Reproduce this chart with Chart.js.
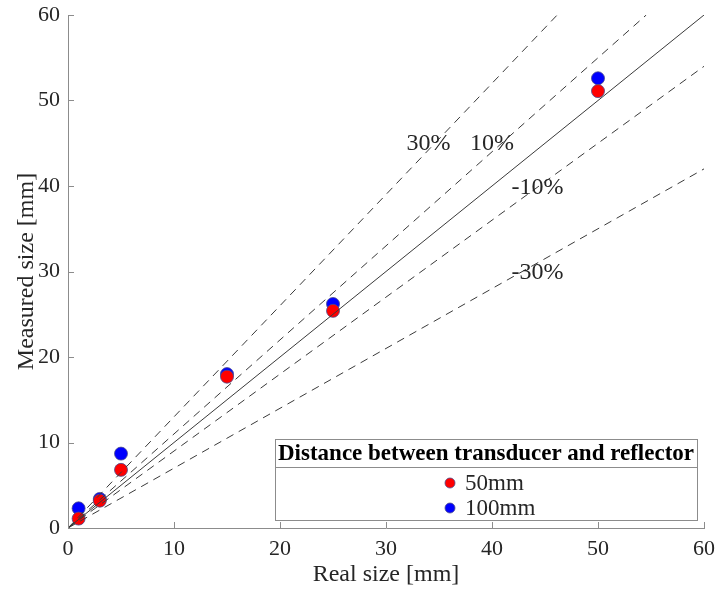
<!DOCTYPE html>
<html>
<head>
<meta charset="utf-8">
<script src="https://cdn.jsdelivr.net/npm/chart.js@4/dist/chart.umd.min.js"></script>
<style>
  html, body { margin: 0; padding: 0; background: #fff; }
  #wrap { width: 720px; height: 589px; }
</style>
</head>
<body>
<div id="wrap"><canvas id="myChart" width="720" height="589"></canvas></div>
<script>
// measured data
let realSize = [1, 3, 5, 15, 25, 50]
let measured50 = [1.1, 3.2, 6.8, 17.7, 25.4, 51.1]
let measured100 = [2.3, 3.4, 8.7, 18.0, 26.2, 52.6]

// reference lines y = k*x (start at origin, end at box edge)
let refNames = ["30%", "10%", "0%", "-10%", "-30%"]
let refEndX = [46.15, 54.55, 60, 60, 60]
let refEndY = [60, 60, 60, 54, 42]
let refDashed = [true, true, false, true, true]

// labels on the reference lines (data coords)
let refLabelText = ["30%", "10%", "-10%", "-30%"]
let refLabelX = [34, 40, 44.3, 44.3]
let refLabelY = [44.9, 44.9, 39.8, 29.9]

let ticks = [0, 10, 20, 30, 40, 50, 60]
let legendTitle = "Distance between transducer and reflector"

const serif = "'Liberation Serif', 'Times New Roman', serif"
const textColor = "#262626"
const axisColor = "#8c8c8c"

function toPoints(xs, ys){
    let pts = []
    for (let i = 0; i < xs.length; i++) {
        pts.push({x: xs[i], y: ys[i]})
    }
    return pts
}

let datasets = []
for (let i = 0; i < refNames.length; i++) {
    datasets.push({
        type: "line",
        label: refNames[i],
        data: [{x: 0, y: 0}, {x: refEndX[i], y: refEndY[i]}],
        borderColor: "#3a3a3a",
        borderWidth: 1,
        borderDash: refDashed[i] ? [8, 6] : [],
        pointRadius: 0,
        fill: false,
        showInLegend: false
    })
}
datasets.push({
    type: "scatter",
    label: "50mm",
    data: toPoints(realSize, measured50),
    backgroundColor: "#ff0000",
    borderColor: "#4a4a8a",
    borderWidth: 0.8,
    pointRadius: 6.5,
    showInLegend: true
})
datasets.push({
    type: "scatter",
    label: "100mm",
    data: toPoints(realSize, measured100),
    backgroundColor: "#0000ff",
    borderColor: "#4a4a8a",
    borderWidth: 0.8,
    pointRadius: 6.5,
    showInLegend: true
})

// inward tick marks, line labels and boxed legend
const extras = {
    id: "extras",
    afterDatasetsDraw(chart){
        let ctx = chart.ctx
        let xs = chart.scales.x
        let ys = chart.scales.y
        let area = chart.chartArea
        ctx.save()
        ctx.strokeStyle = axisColor
        ctx.lineWidth = 1
        ticks.forEach(t => {
            let px = Math.round(xs.getPixelForValue(t)) + 0.5
            ctx.beginPath()
            ctx.moveTo(px, area.bottom)
            ctx.lineTo(px, area.bottom - 6)
            ctx.stroke()
            let py = Math.round(ys.getPixelForValue(t)) + 0.5
            ctx.beginPath()
            ctx.moveTo(area.left, py)
            ctx.lineTo(area.left + 6, py)
            ctx.stroke()
        })

        ctx.fillStyle = textColor
        ctx.font = "24px " + serif
        ctx.textAlign = "center"
        ctx.textBaseline = "middle"
        for (let i = 0; i < refLabelText.length; i++) {
            ctx.fillText(refLabelText[i], xs.getPixelForValue(refLabelX[i]), ys.getPixelForValue(refLabelY[i]))
        }

        // legend box
        let lx = 275, ly = 439, lw = 422, lh = 81
        ctx.fillStyle = "#fff"
        ctx.fillRect(lx, ly, lw, lh)
        ctx.strokeStyle = "#8c8c8c"
        ctx.strokeRect(lx + 0.5, ly + 0.5, lw, lh)
        ctx.beginPath()
        ctx.moveTo(lx, ly + 28.5)
        ctx.lineTo(lx + lw, ly + 28.5)
        ctx.stroke()
        ctx.fillStyle = "#000"
        ctx.font = "bold 23px " + serif
        ctx.fillText(legendTitle, lx + lw / 2, ly + 15)
        let items = chart.data.datasets.filter(d => d.showInLegend)
        ctx.font = "23px " + serif
        ctx.textAlign = "left"
        items.forEach((d, i) => {
            let cy = ly + 44 + i * 25
            ctx.beginPath()
            ctx.arc(lx + 175, cy, 5, 0, Math.PI * 2)
            ctx.fillStyle = d.backgroundColor
            ctx.fill()
            ctx.strokeStyle = d.borderColor
            ctx.lineWidth = 0.8
            ctx.stroke()
            ctx.fillStyle = textColor
            ctx.fillText(d.label, lx + 190, cy + 1)
        })
        ctx.restore()
    }
}

let chart = new Chart("myChart", {
    type: "scatter",
    data: {datasets: datasets},
    plugins: [extras],
    options: {
        responsive: false,
        animation: false,
        layout: {padding: {left: 0, right: 16, top: 15, bottom: 0}},
        plugins: {
            legend: {display: false},
            tooltip: {enabled: false},
            title: {display: false}
        },
        scales: {
            x: {
                type: "linear",
                min: 0,
                max: 60,
                afterFit(scale){
                    scale.height = 61
                    scale.paddingLeft = 0
                    scale.paddingRight = 0
                },
                afterBuildTicks(scale){ scale.ticks = ticks.map(v => ({value: v})) },
                grid: {display: false, drawTicks: false},
                border: {display: true, color: axisColor, width: 1},
                ticks: {color: textColor, font: {family: serif, size: 22}, padding: 8, maxRotation: 0},
                title: {display: true, text: "Real size [mm]", color: textColor, font: {family: serif, size: 24}, padding: {top: 0, bottom: 0}}
            },
            y: {
                type: "linear",
                min: 0,
                max: 60,
                afterFit(scale){
                    scale.width = 68
                    scale.paddingTop = 0
                    scale.paddingBottom = 0
                },
                afterBuildTicks(scale){ scale.ticks = ticks.map(v => ({value: v})) },
                grid: {display: false, drawTicks: false},
                border: {display: true, color: axisColor, width: 1},
                ticks: {color: textColor, font: {family: serif, size: 22}, padding: 8},
                title: {display: true, text: "Measured size [mm]", color: textColor, font: {family: serif, size: 24}, padding: {top: 12, bottom: 0}}
            }
        }
    }
})
</script>
</body>
</html>
